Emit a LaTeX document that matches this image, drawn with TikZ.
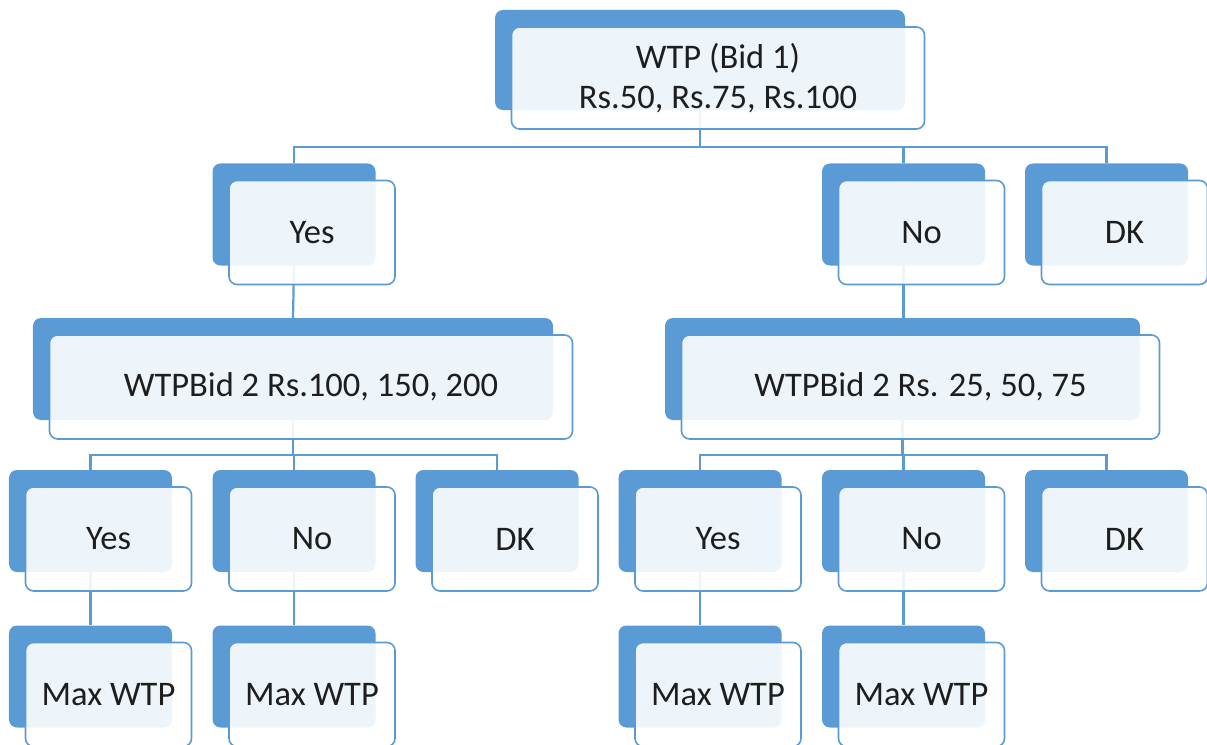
\documentclass[tikz,border=0pt]{standalone}
\usepackage{fontspec}
\setmainfont{Carlito}
\usetikzlibrary{backgrounds}
\definecolor{sablue}{HTML}{5B9BD5}
\definecolor{txt}{HTML}{1E1E1E}
\tikzset{
  backbox/.style={draw=none, fill=sablue, rounded corners=8bp, inner sep=0pt},
  frontbox/.style={draw=sablue, line width=1.6bp, fill=white, fill opacity=0.9, text opacity=1,
    rounded corners=8bp, inner sep=0pt, text=txt, align=center, font=\fontsize{34.5bp}{40bp}\selectfont},
  link/.style={draw=sablue, line width=2.2bp}
}
\newcommand\pairbox[6]{%
  \node[backbox, minimum width=#4bp, minimum height=#5bp] (#1b) at (#2,#3) {};
  \node[frontbox, minimum width=#4bp+3bp, minimum height=#5bp+2bp] (#1) at (#2+18,#3+18) {#6};
}
\begin{document}
\begin{tikzpicture}[x=1bp, y=-1bp]
\useasboundingbox (0,0) rectangle (1207,745);
% level 0
\pairbox{wtp}{700}{60}{410}{100}{WTP (Bid 1)\\Rs.50, Rs.75, Rs.100}
% level 1
\pairbox{yesA}{294}{214.5}{163}{102}{Yes}
\pairbox{noA}{903.5}{214.5}{163}{102}{No}
\pairbox{dkA}{1106.5}{214.5}{163}{102}{DK}
% level 2
\pairbox{bidL}{293}{369}{520}{102}{WTPBid 2 Rs.100, 150, 200}
\pairbox{bidR}{902.5}{369}{475}{102}{WTPBid 2 Rs. 25, 50, 75}
% level 3
\pairbox{yesL}{90.5}{521}{163}{102}{Yes}
\pairbox{noL}{294}{521}{163}{102}{No}
\pairbox{dkL}{497}{521}{163}{102}{DK}
\pairbox{yesR}{700}{521}{163}{102}{Yes}
\pairbox{noR}{903.5}{521}{163}{102}{No}
\pairbox{dkR}{1106.5}{521}{163}{102}{DK}
% level 4
\pairbox{maxLa}{90.5}{676.5}{163}{102}{Max WTP}
\pairbox{maxLb}{294}{676.5}{163}{102}{Max WTP}
\pairbox{maxRa}{700}{676.5}{163}{102}{Max WTP}
\pairbox{maxRb}{903.5}{676.5}{163}{102}{Max WTP}
% connectors
\begin{pgfonlayer}{background}
\coordinate (barA) at (0,147);
\coordinate (barB) at (0,455);
\draw[link] (wtpb.south) -- (wtpb.south |- barA) -| (yesAb.north);
\draw[link] (wtpb.south |- barA) -| (noAb.north);
\draw[link] (wtpb.south |- barA) -| (dkAb.north);
\draw[link] (yesAb.south) -- (bidLb.north);
\draw[link] (noAb.south) -- (noAb.south |- bidRb.north);
\draw[link] (bidLb.south) -- (bidLb.south |- barB) -| (yesLb.north);
\draw[link] (bidLb.south |- barB) -| (noLb.north);
\draw[link] (bidLb.south |- barB) -| (dkLb.north);
\draw[link] (bidRb.south) -- (bidRb.south |- barB) -| (yesRb.north);
\draw[link] (bidRb.south |- barB) -| (noRb.north);
\draw[link] (bidRb.south |- barB) -| (dkRb.north);
\draw[link] (yesLb.south) -- (maxLab.north);
\draw[link] (noLb.south) -- (maxLbb.north);
\draw[link] (yesRb.south) -- (maxRab.north);
\draw[link] (noRb.south) -- (maxRbb.north);
\end{pgfonlayer}
\end{tikzpicture}
\end{document}
